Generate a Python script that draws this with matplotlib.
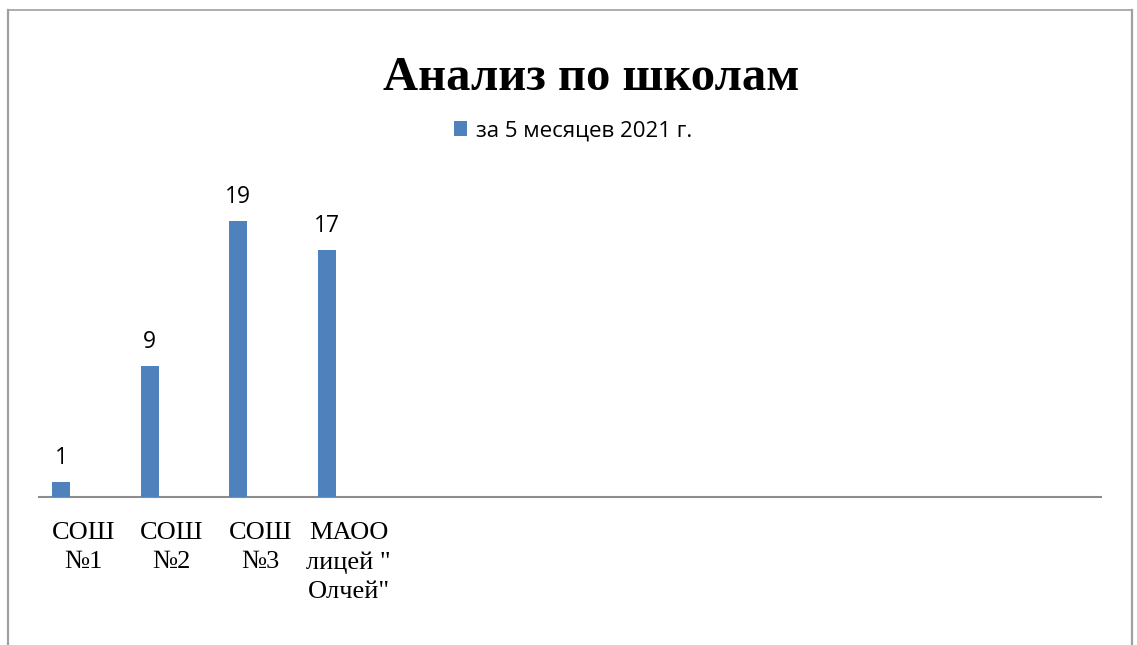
import matplotlib
matplotlib.use("Agg")
import matplotlib.pyplot as plt
from matplotlib.lines import Line2D
from matplotlib.patches import Patch

categories = ["СОШ\n№1", "СОШ\n№2", "СОШ\n№3", "МАОО\nлицей \"\nОлчей\"",
              "", "", "", "", "", "", "", ""]
values = [1, 9, 19, 17]
series_name = "за 5 месяцев 2021 г."
title = "Анализ по школам"

W, H = 1137, 645
fig = plt.figure(figsize=(W / 100, H / 100), dpi=100)
fig.patch.set_facecolor("white")

# axes placement in pixels
x0, x1 = 39, 1101
y_base = 497
px_per_unit = 14.53
ymax = 20
ax = fig.add_axes([x0 / W, 1 - y_base / H, (x1 - x0) / W, ymax * px_per_unit / H])

n = len(categories)
xs = list(range(len(values)))
bar_color = "#4F81BD"
offset = -0.25
width = 0.205
bars = ax.bar([x + offset for x in xs], values, width=width, color=bar_color, zorder=3)
for x, v in zip(xs, values):
    ax.text(x + offset, v + 0.85, str(v), ha="center", va="bottom",
            fontsize=16.5, family="Open Sans", color="#000000", clip_on=False)

ax.set_xlim(-0.5, n - 0.5)
ax.set_ylim(0, ymax)
for s in ["top", "right", "left"]:
    ax.spines[s].set_visible(False)
ax.spines["bottom"].set_color("#8c8c8c")
ax.spines["bottom"].set_linewidth(1.5)
ax.set_yticks([])
ax.set_xticks(range(n))
ax.set_xticklabels(categories, fontsize=19, family="Liberation Serif",
                   linespacing=1.42, ha="center", multialignment="center")
ax.tick_params(axis="x", length=0, pad=18)

fig.text(591 / W, 1 - 78 / H, title, ha="center", va="center",
         fontsize=35, fontweight="bold", family="Liberation Serif")

leg = fig.legend(handles=[Patch(facecolor=bar_color, edgecolor="none", label=series_name)],
                 loc="center", bbox_to_anchor=(573 / W, 1 - 131 / H),
                 frameon=False, prop={"family": "Open Sans", "size": 16},
                 handlelength=0.62, handleheight=0.62, handletextpad=0.4)

# outer border (left, top, right)
bc = "#a0a0a0"
fig.add_artist(Line2D([7.5 / W, 7.5 / W], [0, 1 - 10 / H], color=bc, lw=1.6, transform=fig.transFigure))
fig.add_artist(Line2D([7.5 / W, 1132 / W], [1 - 10 / H, 1 - 10 / H], color=bc, lw=1.2, transform=fig.transFigure))
fig.add_artist(Line2D([1132 / W, 1132 / W], [0, 1 - 10 / H], color=bc, lw=1.6, transform=fig.transFigure))

fig.savefig("out.png", dpi=100)
